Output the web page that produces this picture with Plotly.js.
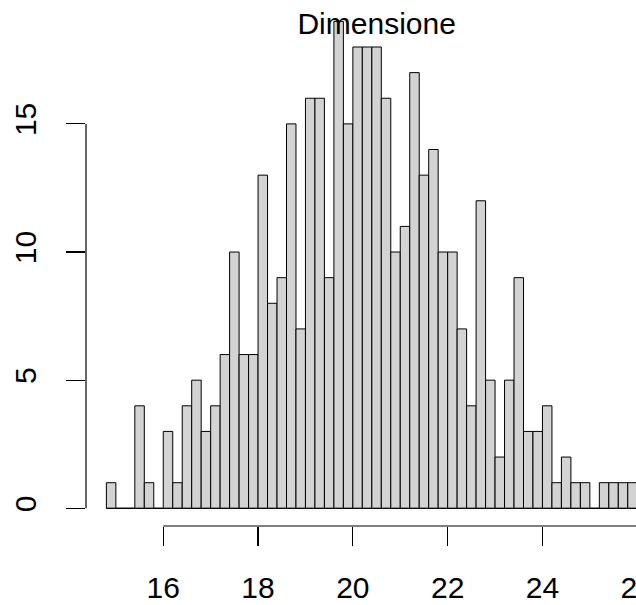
<!DOCTYPE html>
<html>
<head>
<meta charset="utf-8">
<script src="https://cdn.plot.ly/plotly-3.0.1.min.js"></script>
<style>
  html, body { margin: 0; padding: 0; overflow: hidden; background: #ffffff; }
  #chart { width: 642px; height: 605px; }
</style>
</head>
<body>
<div id="chart"></div>
<script>
// ---- data (histogram counts, bins of width 0.2 starting at 14.8) ----
var chartTitle = "Dimensione";
var binStart = 14.8;
var binWidth = 0.2;
var counts = [
  1, 0, 0, 4, 1, 0, 3, 1, 4, 5,
  3, 4, 6, 10, 6, 6, 13, 8, 9, 15,
  7, 16, 16, 9, 19, 15, 18, 18, 18, 16,
  10, 11, 17, 13, 14, 10, 10, 7, 4, 12,
  5, 2, 5, 9, 3, 3, 4, 1, 2, 1,
  1, 0, 1, 1, 1, 1
];
var xTickVals = [16, 18, 20, 22, 24, 26];
var xTickText = ["16", "18", "20", "22", "24", "26"];
var yTickVals = [0, 5, 10, 15];
var yTickText = ["0", "5", "10", "15"];

// ---- build ----
var leftEdges = counts.map(function (c, i) { return +(binStart + i * binWidth).toFixed(4); });
var binEnd = binStart + counts.length * binWidth;

var FONT = "Liberation Sans, Arial, sans-serif";

var trace = {
  type: "bar",
  x: leftEdges,
  y: counts,
  width: binWidth,
  offset: 0,
  marker: { color: "#D3D3D3", line: { color: "#000000", width: 1 } },
  hoverinfo: "skip"
};

var layout = {
  width: 642,
  height: 605,
  margin: { l: 86, r: 0, t: 6, b: 79, pad: 0 },
  paper_bgcolor: "#ffffff",
  plot_bgcolor: "#ffffff",
  showlegend: false,
  bargap: 0,
  title: {
    text: chartTitle,
    font: { family: FONT, size: 30, color: "#000000" },
    xref: "paper", x: 0.5228, xanchor: "center",
    yref: "container", y: 0.9613, yanchor: "middle"
  },
  xaxis: {
    range: [14.37, 26.1],
    tickmode: "array", tickvals: xTickVals, ticktext: xTickText,
    ticks: "outside", ticklen: 19, tickwidth: 1.2, tickcolor: "#000000",
    showline: false, showgrid: false, zeroline: false,
    tickfont: { family: FONT, size: 30, color: "#000000" },
    ticklabelstandoff: 16,
    ticklabeloverflow: "allow"
  },
  yaxis: {
    range: [-0.69, 19.6],
    tickmode: "array", tickvals: yTickVals, ticktext: yTickText,
    ticks: "outside", ticklen: 19, tickwidth: 1.2, tickcolor: "#000000",
    tickangle: -90,
    showline: false, showgrid: false, zeroline: false,
    tickfont: { family: FONT, size: 30, color: "#000000" },
    ticklabelstandoff: 18
  },
  shapes: [
    { type: "line", xref: "x", yref: "paper", x0: xTickVals[0], x1: xTickVals[xTickVals.length - 1], y0: 0, y1: 0,
      line: { color: "#000000", width: 1.2 } },
    { type: "line", xref: "paper", yref: "y", x0: 0, x1: 0, y0: yTickVals[0], y1: yTickVals[yTickVals.length - 1],
      line: { color: "#000000", width: 1.2 } },
    { type: "line", xref: "x", yref: "y", x0: binStart, x1: binEnd, y0: 0, y1: 0,
      line: { color: "#000000", width: 1 }, layer: "above" }
  ]
};

Plotly.newPlot("chart", [trace], layout, { displayModeBar: false, staticPlot: true });
</script>
</body>
</html>
